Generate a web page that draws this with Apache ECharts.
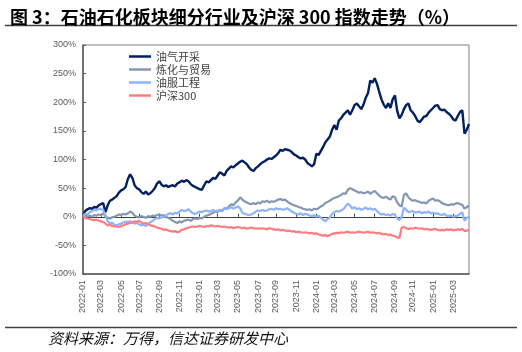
<!DOCTYPE html>
<html>
<head>
<meta charset="utf-8">
<script src="https://cdn.jsdelivr.net/npm/echarts@6/dist/echarts.min.js"></script>
<style>
  html, body { margin: 0; padding: 0; background: #fff; }
  #chart { width: 522px; height: 352px; }
</style>
</head>
<body>
<div id="chart"></div>
<script>
// weekly points, first week of 2022-01 to late 2025-04
const startDay = '2022-01-07';
const weekCount = 173;

const seriesNames = ['油气开采', '炼化与贸易', '油服工程', '沪深300'];

// cumulative change, %
const oilGas = [
  3, 10, 13, 15, 14, 17, 16, 20, 22, 24,
  8, 20, 28, 30, 33, 36, 42, 46, 48, 52,
  66, 74, 68, 55, 50, 48, 43, 40, 44, 39,
  41, 45, 50, 58, 62, 56, 53, 55, 52, 54,
  55, 53, 58, 60, 63, 61, 64, 62, 57, 54,
  52, 50, 48, 47, 55, 62, 60, 64, 68, 66,
  72, 78, 75, 72, 80, 84, 88, 86, 90, 93,
  96, 98, 95, 92, 86, 82, 80, 85, 88, 92,
  95, 97, 100, 102, 101, 104, 107, 111, 117, 115,
  118, 117, 116, 113, 109, 107, 104, 102, 103, 100,
  94, 91, 88, 92, 110, 108, 115, 122, 130, 135,
  140, 152, 160, 152, 168, 172, 178, 182, 186, 178,
  186, 195, 198, 193, 188, 196, 208, 216, 238, 234,
  242, 232, 218, 205, 196, 190, 198, 190, 205, 212,
  185, 172, 178, 188, 195, 198, 186, 182, 176, 168,
  165, 170, 175, 176, 182, 186, 190, 194, 195, 188,
  186, 187, 183, 180, 176, 170, 168, 176, 183, 186,
  145, 152, 162
];

const refining = [
  3, 2, 1, 2, 0, 3, 2, 4, 3, 6,
  1, -2, -3, -1, 0, 2, 4, 3, 5, 4,
  6, 9, 7, 2, 0, -1, 1, 0, -2, 1,
  0, 2, 1, 3, 4, 2, 3, 0, -2, -4,
  -7, -9, -11, -8, -10, -7, -6, -5, -7, -4,
  -3, -4, -2, -3, 0, 2, 3, 5, 7, 9,
  8, 12, 10, 15, 14, 18, 22, 20, 25, 28,
  34, 30, 27, 25, 23, 22, 24, 22, 25, 23,
  27, 26, 28, 25, 27, 26, 28, 30, 31, 29,
  30, 27, 24, 22, 20, 19, 17, 16, 14, 13,
  12, 13, 11, 14, 13, 15, 18, 20, 24, 26,
  28, 31, 33, 34, 36, 38, 41, 40, 47, 50,
  48, 46, 44, 42, 43, 41, 42, 44, 40, 43,
  45, 41, 37, 34, 33, 35, 32, 30, 36, 34,
  25, 20, 18, 38, 41, 34, 30, 28, 29, 27,
  26, 24, 25, 23, 28, 30, 32, 28, 29, 27,
  24, 22, 21, 20, 22, 21, 23, 24, 22, 21,
  14, 17, 20
];

const oilService = [
  3, 5, 4, 8, 10, 12, 11, 14, 13, 12,
  2, -8, -12, -10, -14, -15, -13, -12, -10, -9,
  -9, -8, -10, -12, -11, -13, -15, -14, -16, -12,
  -10, -7, -4, -2, -3, -1, 0, 2, 5, 6,
  4, 7, 6, 9, 12, 10, 11, 13, 9, 6,
  5, 7, 9, 8, 10, 11, 9, 10, 12, 9,
  11, 10, 12, 14, 13, 15, 17, 14, 16, 18,
  15, 7, 5, 4, 3, 4, 6, 9, 11, 10,
  12, 10, 11, 13, 14, 12, 15, 13, 14, 12,
  13, 15, 12, 9, 7, 5, 4, 6, 3, 5,
  4, 2, 1, 3, 0, 2, -2, -5, -8, -4,
  -1, 5, 8, 10, 9, 11, 13, 18, 23, 20,
  14, 17, 13, 15, 12, 14, 16, 13, 15, 12,
  14, 10, 6, 4, 5, 3, 4, 2, 5, 3,
  -3, -6, 0, 16, 12, 8, 9, 10, 7, 8,
  9, 6, 8, 7, 9, 6, 7, 5, 6, 4,
  3, 5, 2, 1, 2, 0, 1, 2, 5, 8,
  -7, -2, 0
];

const hs300 = [
  0, -2, -3, -4, -5, -6, -5, -7, -8, -9,
  -12, -15, -14, -16, -17, -17, -18, -16, -15, -13,
  -12, -11, -10, -8, -9, -7, -10, -12, -11, -13,
  -15, -16, -17, -19, -20, -21, -23, -22, -24, -25,
  -26, -25, -27, -26, -23, -22, -20, -19, -18, -17,
  -18, -17, -16, -17, -18, -16, -17, -15, -16, -17,
  -16, -17, -18, -17, -18, -19, -18, -20, -19, -18,
  -19, -20, -19, -21, -20, -19, -20, -21, -20, -21,
  -20, -21, -22, -20, -21, -22, -23, -22, -24, -23,
  -24, -25, -24, -26, -25, -27, -26, -27, -28, -27,
  -28, -29, -28, -30, -29, -31, -32, -33, -32, -34,
  -32, -30, -29, -28, -29, -27, -28, -27, -26, -28,
  -27, -28, -27, -26, -27, -28, -27, -26, -28, -27,
  -28, -29, -28, -30, -31, -30, -32, -31, -33, -34,
  -36, -37, -19, -18, -20, -22, -20, -21, -19, -20,
  -21, -20, -22, -21, -22, -23, -22, -21, -23, -24,
  -23, -24, -22, -23, -22, -24, -23, -22, -23, -21,
  -25, -24, -23
];

const colors = ['#002060', '#8497B0', '#8DB4FA', '#FF7C80'];

// build the weekly date categories
const dates = [];
const t0 = Date.parse(startDay + 'T00:00:00Z');
for (let i = 0; i < weekCount; i++) {
  dates.push(new Date(t0 + i * 7 * 86400000).toISOString().slice(0, 10));
}

// first week of every odd month gets a tick and a label
function isMarkWeek(index) {
  if (index === 0) return true;
  const m = +dates[index].slice(5, 7);
  const prev = +dates[index - 1].slice(5, 7);
  return m !== prev && m % 2 === 1;
}

const chart = echarts.init(document.getElementById('chart'));
const fontCN = '"Noto Sans CJK SC", "Noto Sans", sans-serif';
const fontNum = '"Liberation Sans", Arial, sans-serif';

const values = [oilGas, refining, oilService, hs300];

const option = {
  animation: false,
  backgroundColor: '#fff',
  title: {
    text: '图 3：石油石化板块细分行业及沪深 300 指数走势（%）',
    left: 5,
    top: 3,
    textStyle: { fontSize: 18, fontWeight: 'bold', color: '#000', fontFamily: fontCN }
  },
  legend: {
    data: seriesNames,
    orient: 'vertical',
    left: 124,
    top: 45,
    icon: 'rect',
    itemWidth: 22,
    itemHeight: 2.5,
    itemGap: 0,
    textStyle: { fontSize: 11, color: '#404040', fontFamily: fontCN, lineHeight: 13 }
  },
  grid: {
    left: 83, right: 53, top: 45, bottom: 78,
    show: true, borderColor: '#808080', borderWidth: 1
  },
  xAxis: [
    {
      type: 'category',
      data: dates,
      boundaryGap: false,
      position: 'bottom',
      axisLine: { onZero: false, lineStyle: { color: '#595959', width: 1.5 } },
      axisTick: { show: false },
      axisLabel: {
        interval: isMarkWeek,
        rotate: 90,
        margin: 6,
        fontSize: 9,
        color: '#595959',
        fontFamily: fontNum,
        formatter: (v) => v.slice(0, 7)
      },
      splitLine: { show: false }
    },
    {
      type: 'category',
      data: dates,
      boundaryGap: false,
      position: 'top',
      axisLine: { onZero: true, lineStyle: { color: '#404040', width: 1.2 } },
      axisTick: { show: true, interval: isMarkWeek, length: 3, lineStyle: { color: '#404040' } },
      axisLabel: { show: false },
      splitLine: { show: false }
    }
  ],
  yAxis: {
    type: 'value',
    min: -100,
    max: 300,
    interval: 50,
    axisLine: { show: true, lineStyle: { color: '#595959', width: 1.5 } },
    axisTick: { show: true, inside: true, length: 3, lineStyle: { color: '#595959' } },
    axisLabel: { formatter: '{value}%', fontSize: 9, color: '#595959', margin: 7, fontFamily: fontNum },
    splitLine: { show: false }
  },
  series: seriesNames.map((name, i) => ({
    name: name,
    type: 'line',
    data: values[i],
    showSymbol: false,
    symbol: 'none',
    lineStyle: { color: colors[i], width: i === 0 ? 2.4 : 2.2 },
    itemStyle: { color: colors[i] }
  })),
  graphic: [
    {
      type: 'line',
      shape: { x1: 5, y1: 25.5, x2: 517, y2: 25.5 },
      style: { stroke: '#404040', lineWidth: 1.5 }
    },
    {
      type: 'line',
      shape: { x1: 5, y1: 327.5, x2: 517, y2: 327.5 },
      style: { stroke: '#404040', lineWidth: 1.5 }
    },
    {
      type: 'text',
      left: 48,
      top: 331,
      style: {
        text: '资料来源：万得，信达证券研发中心',
        fontSize: 15,
        fontStyle: 'italic',
        fill: '#111',
        fontFamily: fontCN
      }
    }
  ]
};

chart.setOption(option);
</script>
</body>
</html>
